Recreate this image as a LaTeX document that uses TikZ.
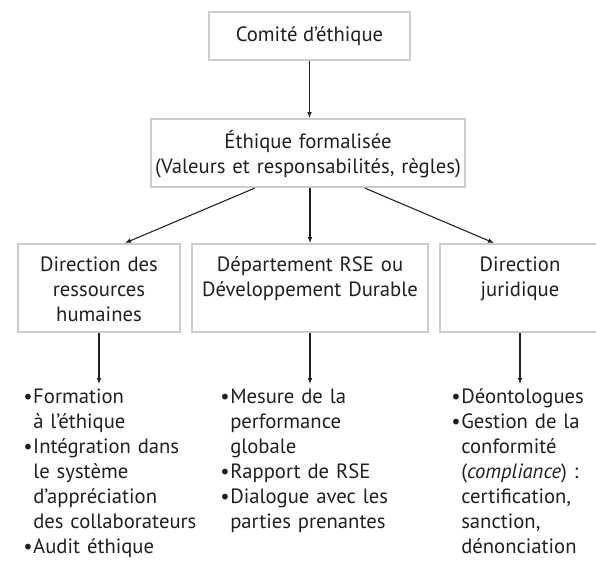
\documentclass[tikz,border=0pt]{standalone}
\usepackage{fontspec}
\setmainfont{PT Sans}
\usetikzlibrary{arrows.meta}

\definecolor{cadre}{HTML}{CCCCCC}
\definecolor{encre}{HTML}{231F20}

% bullet and hanging indent
\newcommand{\pc}{\makebox[9pt][l]{\hspace{1.5pt}\textbullet}}
\newcommand{\ind}{\hspace*{9pt}}

\begin{document}
\begin{tikzpicture}[x=0.75pt,y=-0.75pt,
        font=\fontsize{15.5}{18.75}\selectfont, text=encre,
        boite/.style={draw=cadre, line width=1.6pt, inner sep=0pt, align=center},
        colonne/.style={boite, anchor=north, text height=20.25pt, text depth=45.75pt},
        liste/.style={anchor=north west, inner sep=0pt, align=left, text width=#1, text height=12pt},
        fleche/.style={draw=encre, line width=0.8pt, -{Latex[length=4.5pt,width=3.6pt]}}]

        \useasboundingbox (0,0) rectangle (596,561);

        % top
        \node[boite, minimum width=150.75pt, minimum height=36pt] (comite) at (309.5,36) {Comité d’éthique};
        \node[boite, anchor=north, text width=235.5pt, text height=21.75pt, text depth=29.25pt] (ethique) at (308,118)
            {Éthique formalisée\\(Valeurs et responsabilités, règles)};

        % directions
        \node[colonne, text width=121.5pt] (drh) at (99,243) {Direction des\\ressources\\humaines};
        \node[colonne, text width=177pt] (drse) at (310,243) {Département RSE ou\\Développement Durable};
        \node[colonne, text width=120pt] (dj) at (520,243) {Direction\\juridique};

        % lists
        \node[liste=165pt] (lrh) at (21,387)
            {\pc Formation\\\ind à l’éthique\\\pc Intégration dans\\\ind le système\\\ind d’appréciation\\\ind des collaborateurs\\\pc Audit éthique};
        \node[liste=170pt] (lrse) at (218,387)
            {\pc Mesure de la\\\ind performance\\\ind globale\\\pc Rapport de RSE\\\pc Dialogue avec les\\\ind parties prenantes};
        \node[liste=150pt] (ldj) at (449,387)
            {\pc Déontologues\\\pc Gestion de la\\\ind conformité\\\ind (\textit{compliance}) :\\\ind certification,\\\ind sanction,\\\ind dénonciation};

        % arrows
        \coordinate (pointe) at (0,384);
        \draw[fleche] (comite.south) -- (comite.south |- ethique.north);
        \draw[fleche] ([xshift=-40pt]ethique.south) -- ([xshift=19.5pt]drh.north);
        \draw[fleche] (drse.north |- ethique.south) -- (drse.north);
        \draw[fleche] ([xshift=42.75pt]ethique.south) -- ([xshift=-19.5pt]dj.north);

        \draw[fleche] (drh.south) -- (drh.south |- pointe);
        \draw[fleche] (drse.south) -- (drse.south |- pointe);
        \draw[fleche] (dj.south) -- (dj.south |- pointe);
    \end{tikzpicture}
\end{document}
